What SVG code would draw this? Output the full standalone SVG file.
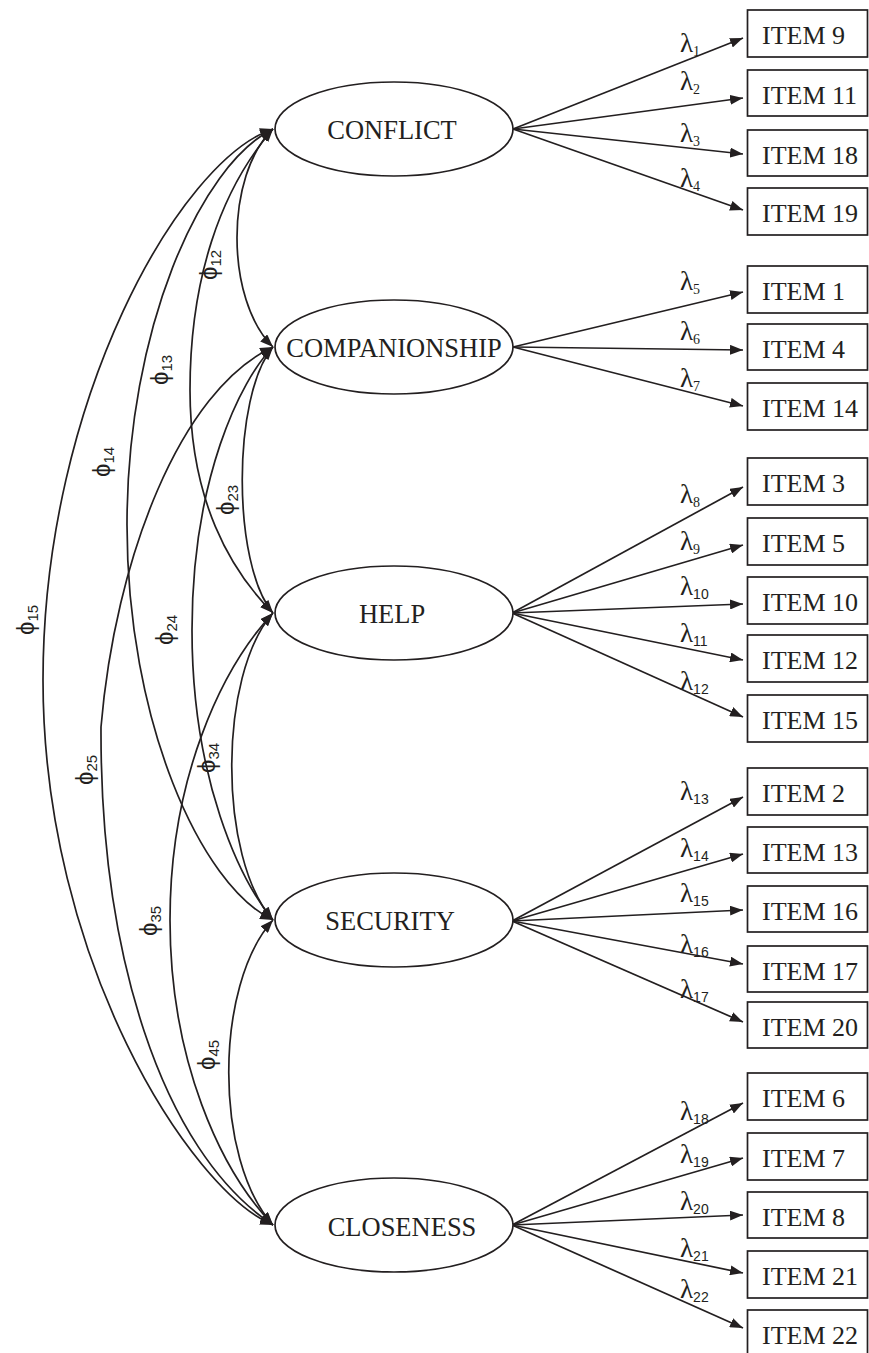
<svg xmlns="http://www.w3.org/2000/svg" width="869" height="1353" viewBox="0 0 869 1353">
<defs>
<marker id="ah" viewBox="0 0 13 10" refX="13" refY="5" markerWidth="13" markerHeight="10" markerUnits="userSpaceOnUse" orient="auto-start-reverse"><path d="M0,0 L13,5 L0,10 z" fill="#231f20"/></marker>
<style>
.ld{stroke:#231f20;stroke-width:1.7;fill:none;marker-end:url(#ah)}
.cv{stroke:#231f20;stroke-width:1.7;fill:none;marker-start:url(#ah);marker-end:url(#ah)}
.box{fill:#fff;stroke:#231f20;stroke-width:1.7}
.ell{fill:#fff;stroke:#231f20;stroke-width:1.7}
.it{font-family:"Liberation Serif",serif;font-size:26px;fill:#231f20}
.lv{font-family:"Liberation Serif",serif;font-size:26.5px;fill:#231f20;text-anchor:middle}
.lam{font-family:"Liberation Serif",serif;font-size:27px;fill:#231f20}
.s1{font-family:"Liberation Serif",serif;font-size:14px}
.s2{font-family:"Liberation Sans",sans-serif;font-size:14px}
.phi{font-family:"Liberation Sans","DejaVu Sans",sans-serif;font-size:24px;fill:#231f20;text-anchor:middle}
.ps{font-size:15px}
</style>
</defs>
<g id="connectors">
<path class="cv" d="M273,129 C225,175 225,300 273,347"/>
<path class="cv" d="M273,129 C220,190 190,280 190,390 C190,500 230,570 273,613"/>
<path class="cv" d="M273,129 C200,165 127,330 127,525 C127,720 200,885 273,920"/>
<path class="cv" d="M273,129 C180,160 43,400 43,680 C43,960 190,1190 273,1225"/>
<path class="cv" d="M273,347 C232,395 232,565 273,613"/>
<path class="cv" d="M273,347 C240,380 192,480 192,630 C192,780 240,880 273,920"/>
<path class="cv" d="M273,347 C180,390 115,560 101,727 C100,950 160,1150 273,1225"/>
<path class="cv" d="M273,613 C218,675 218,858 273,920"/>
<path class="cv" d="M273,613 C220,670 170,780 170,920 C170,1060 220,1170 273,1225"/>
<path class="cv" d="M273,920 C214,985 214,1160 273,1225"/>
<line class="ld" x1="513" y1="129" x2="743" y2="38"/>
<line class="ld" x1="513" y1="129" x2="743" y2="98"/>
<line class="ld" x1="513" y1="129" x2="743" y2="154"/>
<line class="ld" x1="513" y1="129" x2="743" y2="210"/>
<line class="ld" x1="513" y1="347" x2="743" y2="292"/>
<line class="ld" x1="513" y1="347" x2="743" y2="350"/>
<line class="ld" x1="513" y1="347" x2="743" y2="406"/>
<line class="ld" x1="512" y1="613" x2="743" y2="487"/>
<line class="ld" x1="512" y1="613" x2="743" y2="545"/>
<line class="ld" x1="512" y1="613" x2="743" y2="604"/>
<line class="ld" x1="512" y1="613" x2="743" y2="660"/>
<line class="ld" x1="512" y1="613" x2="743" y2="717"/>
<line class="ld" x1="512" y1="921" x2="743" y2="797"/>
<line class="ld" x1="512" y1="921" x2="743" y2="854"/>
<line class="ld" x1="512" y1="921" x2="743" y2="910"/>
<line class="ld" x1="512" y1="921" x2="743" y2="964"/>
<line class="ld" x1="512" y1="921" x2="743" y2="1022"/>
<line class="ld" x1="512" y1="1225" x2="743" y2="1103"/>
<line class="ld" x1="512" y1="1225" x2="743" y2="1158"/>
<line class="ld" x1="512" y1="1225" x2="743" y2="1215"/>
<line class="ld" x1="512" y1="1225" x2="743" y2="1273"/>
<line class="ld" x1="512" y1="1225" x2="743" y2="1328"/>
</g>
<g id="phi-labels">
<text class="phi" transform="translate(217,265) rotate(-90)">ϕ<tspan class="ps" dy="4">12</tspan></text>
<text class="phi" transform="translate(168,370) rotate(-90)">ϕ<tspan class="ps" dy="4">13</tspan></text>
<text class="phi" transform="translate(110,462) rotate(-90)">ϕ<tspan class="ps" dy="4">14</tspan></text>
<text class="phi" transform="translate(34,620) rotate(-90)">ϕ<tspan class="ps" dy="4">15</tspan></text>
<text class="phi" transform="translate(234,500) rotate(-90)">ϕ<tspan class="ps" dy="4">23</tspan></text>
<text class="phi" transform="translate(173,630) rotate(-90)">ϕ<tspan class="ps" dy="4">24</tspan></text>
<text class="phi" transform="translate(93,770) rotate(-90)">ϕ<tspan class="ps" dy="4">25</tspan></text>
<text class="phi" transform="translate(215,758) rotate(-90)">ϕ<tspan class="ps" dy="4">34</tspan></text>
<text class="phi" transform="translate(157,921) rotate(-90)">ϕ<tspan class="ps" dy="4">35</tspan></text>
<text class="phi" transform="translate(215,1055) rotate(-90)">ϕ<tspan class="ps" dy="4">45</tspan></text>
</g>
<g id="lambda-labels">
<text class="lam" x="680" y="52">λ<tspan class="s1" dy="4">1</tspan></text>
<text class="lam" x="680" y="90">λ<tspan class="s1" dy="4">2</tspan></text>
<text class="lam" x="680" y="142">λ<tspan class="s1" dy="4">3</tspan></text>
<text class="lam" x="680" y="187">λ<tspan class="s1" dy="4">4</tspan></text>
<text class="lam" x="680" y="290">λ<tspan class="s1" dy="4">5</tspan></text>
<text class="lam" x="680" y="340">λ<tspan class="s1" dy="4">6</tspan></text>
<text class="lam" x="680" y="387">λ<tspan class="s1" dy="4">7</tspan></text>
<text class="lam" x="680" y="503">λ<tspan class="s1" dy="4">8</tspan></text>
<text class="lam" x="680" y="550">λ<tspan class="s1" dy="4">9</tspan></text>
<text class="lam" x="680" y="595">λ<tspan class="s2" dy="4">10</tspan></text>
<text class="lam" x="680" y="642">λ<tspan class="s2" dy="4">11</tspan></text>
<text class="lam" x="680" y="690">λ<tspan class="s2" dy="4">12</tspan></text>
<text class="lam" x="680" y="800">λ<tspan class="s2" dy="4">13</tspan></text>
<text class="lam" x="680" y="857">λ<tspan class="s2" dy="4">14</tspan></text>
<text class="lam" x="680" y="902">λ<tspan class="s2" dy="4">15</tspan></text>
<text class="lam" x="680" y="953">λ<tspan class="s2" dy="4">16</tspan></text>
<text class="lam" x="680" y="998">λ<tspan class="s2" dy="4">17</tspan></text>
<text class="lam" x="680" y="1120">λ<tspan class="s2" dy="4">18</tspan></text>
<text class="lam" x="680" y="1163">λ<tspan class="s2" dy="4">19</tspan></text>
<text class="lam" x="680" y="1210">λ<tspan class="s2" dy="4">20</tspan></text>
<text class="lam" x="680" y="1257">λ<tspan class="s2" dy="4">21</tspan></text>
<text class="lam" x="680" y="1298">λ<tspan class="s2" dy="4">22</tspan></text>
</g>
<g id="conflict"><ellipse class="ell" cx="394" cy="129" rx="119" ry="47"/><text class="lv" x="392" y="139">CONFLICT</text></g>
<g id="companionship"><ellipse class="ell" cx="394" cy="347" rx="119" ry="47"/><text class="lv" x="394" y="357">COMPANIONSHIP</text></g>
<g id="help"><ellipse class="ell" cx="394" cy="613" rx="119" ry="47"/><text class="lv" x="392" y="623">HELP</text></g>
<g id="security"><ellipse class="ell" cx="394" cy="920" rx="119" ry="47"/><text class="lv" x="390" y="930">SECURITY</text></g>
<g id="closeness"><ellipse class="ell" cx="394" cy="1225" rx="119" ry="47"/><text class="lv" x="402" y="1236">CLOSENESS</text></g>
<g id="item9"><rect class="box" x="747.5" y="10" width="120" height="47"/><text class="it" x="762" y="44">ITEM 9</text></g>
<g id="item11"><rect class="box" x="747.5" y="70" width="120" height="46"/><text class="it" x="762" y="104">ITEM 11</text></g>
<g id="item18"><rect class="box" x="747.5" y="130" width="120" height="46"/><text class="it" x="762" y="164">ITEM 18</text></g>
<g id="item19"><rect class="box" x="747.5" y="188" width="120" height="47"/><text class="it" x="762" y="222">ITEM 19</text></g>
<g id="item1"><rect class="box" x="747.5" y="266" width="120" height="47"/><text class="it" x="762" y="300">ITEM 1</text></g>
<g id="item4"><rect class="box" x="747.5" y="324" width="120" height="46"/><text class="it" x="762" y="358">ITEM 4</text></g>
<g id="item14"><rect class="box" x="747.5" y="383" width="120" height="47"/><text class="it" x="762" y="417">ITEM 14</text></g>
<g id="item3"><rect class="box" x="747.5" y="458" width="120" height="47"/><text class="it" x="762" y="492">ITEM 3</text></g>
<g id="item5"><rect class="box" x="747.5" y="518" width="120" height="47"/><text class="it" x="762" y="552">ITEM 5</text></g>
<g id="item10"><rect class="box" x="747.5" y="577" width="120" height="47"/><text class="it" x="762" y="611">ITEM 10</text></g>
<g id="item12"><rect class="box" x="747.5" y="635" width="120" height="47"/><text class="it" x="762" y="669">ITEM 12</text></g>
<g id="item15"><rect class="box" x="747.5" y="695" width="120" height="47"/><text class="it" x="762" y="729">ITEM 15</text></g>
<g id="item2"><rect class="box" x="747.5" y="768" width="120" height="47"/><text class="it" x="762" y="802">ITEM 2</text></g>
<g id="item13"><rect class="box" x="747.5" y="827" width="120" height="46"/><text class="it" x="762" y="861">ITEM 13</text></g>
<g id="item16"><rect class="box" x="747.5" y="886" width="120" height="46"/><text class="it" x="762" y="920">ITEM 16</text></g>
<g id="item17"><rect class="box" x="747.5" y="946" width="120" height="46"/><text class="it" x="762" y="980">ITEM 17</text></g>
<g id="item20"><rect class="box" x="747.5" y="1002" width="120" height="46"/><text class="it" x="762" y="1036">ITEM 20</text></g>
<g id="item6"><rect class="box" x="747.5" y="1073" width="120" height="47"/><text class="it" x="762" y="1107">ITEM 6</text></g>
<g id="item7"><rect class="box" x="747.5" y="1133" width="120" height="47"/><text class="it" x="762" y="1167">ITEM 7</text></g>
<g id="item8"><rect class="box" x="747.5" y="1192" width="120" height="46"/><text class="it" x="762" y="1226">ITEM 8</text></g>
<g id="item21"><rect class="box" x="747.5" y="1251" width="120" height="47"/><text class="it" x="762" y="1285">ITEM 21</text></g>
<g id="item22"><rect class="box" x="747.5" y="1310" width="120" height="47"/><text class="it" x="762" y="1344">ITEM 22</text></g>
</svg>
